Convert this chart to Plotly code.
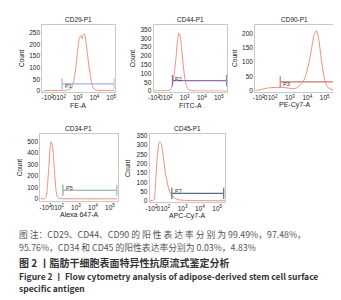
import plotly.graph_objects as go

W, H = 341, 300

# ---------------- data ----------------
titles = ["CD29-P1", "CD44-P1", "CD90-P1", "CD34-P1", "CD45-P1"]
xlabels = ["FE-A", "FITC-A", "PE-Cy7-A", "Alexa 647-A", "APC-Cy7-A"]
gate_names = ["P1", "P2", "P3", "P5", "P7"]

# x in display (biexponential) units; 10^k placed at k
tick_pos = [1.2, 1.6, 2, 3, 4, 5]
tick_text = ["-10<sup>2</sup>", "0", "10<sup>2</sup>", "10<sup>3</sup>", "10<sup>4</sup>", "10<sup>5</sup>"]

cd29_x = [0.9, 1.3, 2.0, 2.4, 2.6, 2.75, 2.9, 3.0, 3.1, 3.18, 3.25, 3.32, 3.4, 3.5, 3.6, 3.7, 3.8, 3.9, 4.0, 4.3, 4.8, 5.2]
cd29_y = [0, 2, 2, 4, 10, 40, 110, 180, 230, 238, 225, 242, 245, 205, 145, 90, 45, 18, 6, 2, 1, 1]

cd44_x = [1.18, 1.6, 2.0, 2.15, 2.3, 2.4, 2.5, 2.58, 2.66, 2.74, 2.82, 2.9, 3.0, 3.1, 3.2, 3.4, 3.8, 5.5]
cd44_y = [0, 2, 3, 8, 40, 110, 200, 290, 330, 310, 240, 160, 80, 30, 10, 3, 1, 0]

cd90_x = [1.0, 1.1, 1.77, 2.53, 3.3, 3.67, 3.86, 4.06, 4.25, 4.4, 4.53, 4.67, 4.82, 5.01, 5.2, 5.49]
cd90_y = [0, 1, 10, 12, 8, 25, 45, 90, 150, 200, 210, 175, 100, 35, 10, 2]

cd34_x = [0.9, 1.15, 1.25, 1.32, 1.4, 1.47, 1.54, 1.6, 1.68, 1.75, 1.82, 1.9, 2.0, 2.3, 5.45]
cd34_y = [0, 2, 20, 120, 280, 440, 500, 470, 360, 200, 80, 20, 4, 1, 0]

cd45_x = [1.1, 1.34, 1.43, 1.53, 1.66, 1.76, 1.87, 2.0, 2.13, 2.28, 2.47, 2.75, 3.22, 5.45]
cd45_y = [0, 5, 80, 229, 318, 312, 248, 155, 90, 43, 19, 6, 2, 0]

hist_x = [cd29_x, cd44_x, cd90_x, cd34_x, cd45_x]
hist_y = [cd29_y, cd44_y, cd90_y, cd34_y, cd45_y]

gate_start = [2.06, 2.28, 2.44, 2.23, 2.38]
gate_end = [5.18, 5.45, 5.55, 5.42, 5.38]
gate_y = [30, 60, 31, 75, 40]

y_ticks = [[0, 50, 100, 150, 200, 250],
           [0, 50, 100, 150, 200, 250, 300, 350],
           [0, 50, 100, 150, 200],
           [0, 100, 200, 300, 400, 500],
           [0, 50, 100, 150, 200, 250, 300, 350]]

# ---------------- layout (pixel boxes) ----------------
boxes = [  # x0, x1, y0(top), y1(bottom)
    (29, 103, 15, 83),
    (143, 218, 15, 83),
    (247, 328, 15, 83),
    (27, 106, 126, 194),
    (139, 216, 126, 195),
]
x_ranges = [[0.88, 5.2], [1.18, 5.47], [1.0, 5.55], [0.9, 5.45], [1.1, 5.45]]
y_ranges = [[-3, 285], [-3, 378], [-3, 231], [-17, 568], [-5, 361]]
gate_colors = ["#a3b6dc", "#8f6fb8", "#c77a6e", "#83a2a0", "#5d6a8e"]
hist_color = "#ee8f7d"

fig = go.Figure()

def px(x):
    return x / W

def py(y):
    return 1 - y / H

annotations = []
for i in range(5):
    ax = "" if i == 0 else str(i + 1)
    xa, ya = "x" + ax, "y" + ax
    x0, x1, t, b = boxes[i]
    fig.add_trace(go.Scatter(x=hist_x[i], y=hist_y[i], mode="lines",
                             line=dict(color=hist_color, width=1, shape="spline", smoothing=0.6),
                             xaxis=xa, yaxis=ya, showlegend=False, hoverinfo="skip"))
    fig.add_trace(go.Scatter(x=[gate_start[i], gate_end[i]], y=[gate_y[i], gate_y[i]],
                             mode="lines+markers",
                             line=dict(color=gate_colors[i], width=1.2),
                             marker=dict(symbol="line-ns-open", size=8,
                                         line=dict(color=gate_colors[i], width=1.2)),
                             xaxis=xa, yaxis=ya, showlegend=False, hoverinfo="skip"))
    annotations.append(dict(x=gate_start[i], y=gate_y[i], xref=xa, yref=ya, text=gate_names[i],
                            showarrow=False, xanchor="left", yanchor="middle", xshift=1, yshift=-2 if i in (0, 2) else 2,
                            font=dict(size=5.5, family="Liberation Sans", color="#333")))
    axis_common = dict(showline=True, mirror=True, linecolor="#c9c9c9", linewidth=1,
                       showgrid=False, zeroline=False, ticks="", tickangle=0,
                       tickfont=dict(size=6.5, family="Liberation Sans", color="#222"))
    fig.layout["xaxis" + ax] = dict(domain=[px(x0), px(x1)], range=x_ranges[i], anchor=ya,
                                    tickmode="array", tickvals=tick_pos, ticktext=tick_text,
                                    **axis_common)
    fig.layout["yaxis" + ax] = dict(domain=[py(b), py(t)], range=y_ranges[i], anchor=xa,
                                    tickmode="array", tickvals=y_ticks[i],
                                    **axis_common)
    cx = (x0 + x1) / 2
    annotations.append(dict(x=px(cx), y=py(t - 5), xref="paper", yref="paper", text=titles[i],
                            showarrow=False, xanchor="center", yanchor="middle",
                            font=dict(size=6.5, family="Liberation Sans", color="#222")))
    annotations.append(dict(x=px(cx), y=py(b + 14), xref="paper", yref="paper", text=xlabels[i],
                            showarrow=False, xanchor="center", yanchor="middle",
                            font=dict(size=7, family="Liberation Sans", color="#222")))
    annotations.append(dict(x=px(x0 - 22), y=py((t + b) / 2), xref="paper", yref="paper", text="Count",
                            showarrow=False, xanchor="center", yanchor="middle", textangle=-90,
                            font=dict(size=6.5, family="Liberation Sans", color="#222")))

cap_font = "Noto Sans CJK SC"
captions = [
    ("图 注：CD29、CD44、CD90 的 阳 性 表 达 率 分 别 为 99.49%，97.48%，", 228.5, "#555", 8.8),
    ("95.76%，CD34 和 CD45 的阳性表达率分别为 0.03%，4.83%", 241.5, "#555", 8.8),
    ("<b>图 2 丨脂肪干细胞表面特异性抗原流式鉴定分析</b>", 257, "#333", 10),
    ("<b>Figure 2 丨 Flow cytometry analysis of adipose-derived stem cell surface</b>", 271, "#333", 8.5),
    ("<b>specific antigen</b>", 283, "#333", 8.5),
]
for txt, y, col, sz in captions:
    annotations.append(dict(x=px(3), y=py(y), xref="paper", yref="paper", text=txt,
                            showarrow=False, xanchor="left", yanchor="middle",
                            font=dict(size=sz, family=cap_font, color=col)))

fig.update_layout(width=W, height=H, margin=dict(l=0, r=0, t=0, b=0),
                  paper_bgcolor="white", plot_bgcolor="white",
                  annotations=annotations)

fig.write_html("out.html")
